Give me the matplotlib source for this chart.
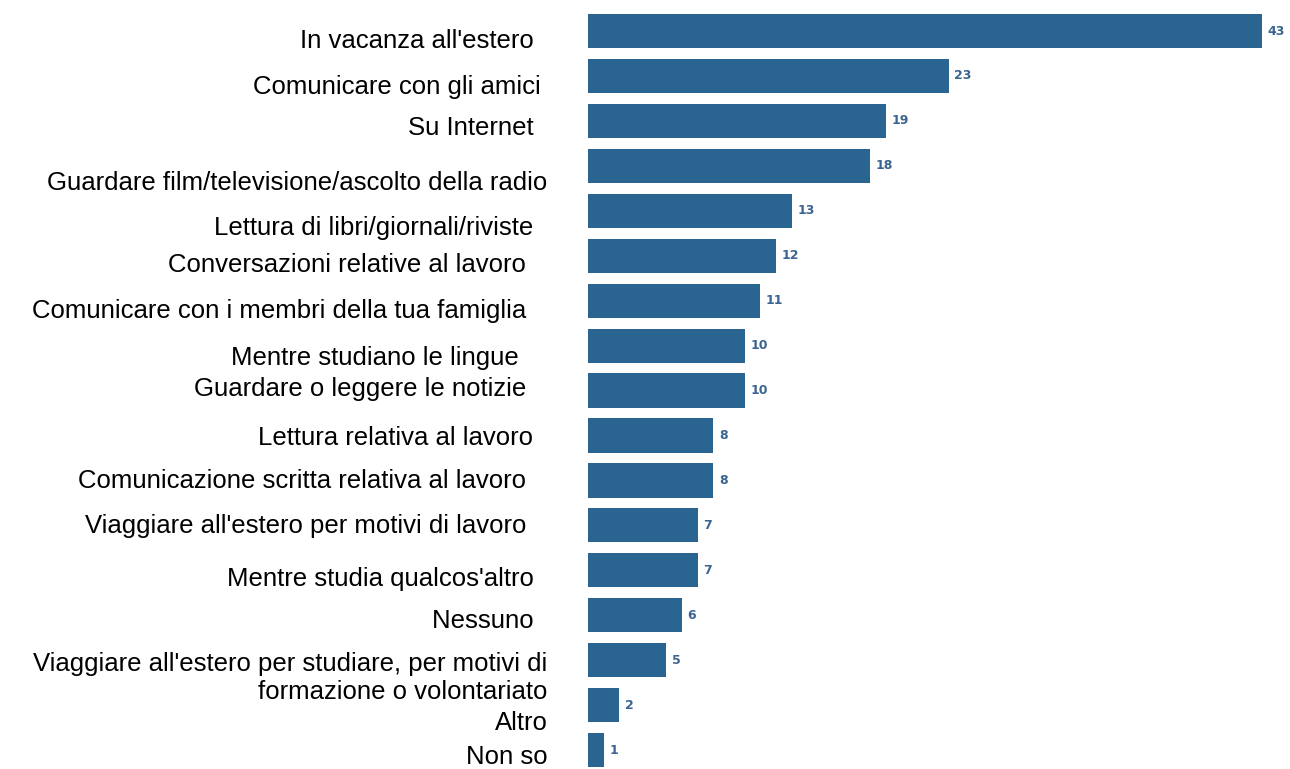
import numpy as np
import matplotlib.pyplot as plt

plt.rcParams['font.family'] = ['Liberation Sans', 'DejaVu Sans']

labels = ["In vacanza all'estero  ",
          "Comunicare con gli amici ",
          "Su Internet  ",
          "Guardare film/televisione/ascolto della radio",
          "Lettura di libri/giornali/riviste  ",
          "Conversazioni relative al lavoro   ",
          "Comunicare con i membri della tua famiglia   ",
          "Mentre studiano le lingue    ",
          "Guardare o leggere le notizie   ",
          "Lettura relativa al lavoro  ",
          "Comunicazione scritta relativa al lavoro   ",
          "Viaggiare all'estero per motivi di lavoro   ",
          "Mentre studia qualcos'altro  ",
          "Nessuno  ",
          "Viaggiare all'estero per studiare, per motivi di\nformazione o volontariato",
          "Altro",
          "Non so"]
# where each label sits, in bar-index units (labels drift from the bars in the source)
label_pos = [0.16, 1.18, 2.11, 3.32, 4.32, 5.14, 6.17, 7.21, 7.90, 9.01,
             9.95, 10.95, 12.13, 13.07, 14.3, 15.33, 16.1]
values = [43, 23, 19, 18, 13, 12, 11, 10, 10, 8, 8, 7, 7, 6, 5, 2, 1]

fig = plt.figure(figsize=(12.9, 7.69), dpi=100)
ax = fig.add_axes([588 / 1290, 0, 674 / 1290, 1])

y = np.arange(len(values))
ax.barh(y, values, height=0.76, color='#2a6592')
for yi, v in zip(y, values):
    ax.text(v + 0.35, yi, str(v), va='center', ha='left', fontsize=9,
            fontweight='bold', color='#3b6590', family='DejaVu Sans', clip_on=False)

ax.set_xlim(0, 43)
ax.set_ylim(16.42, -0.69)
ax.set_yticks(label_pos, labels, fontsize=18.5, ha='right')
ax.tick_params(axis='y', length=0, pad=29)
ax.set_xticks([])
for s in ax.spines.values():
    s.set_visible(False)

fig.savefig('out.png', dpi=100)
